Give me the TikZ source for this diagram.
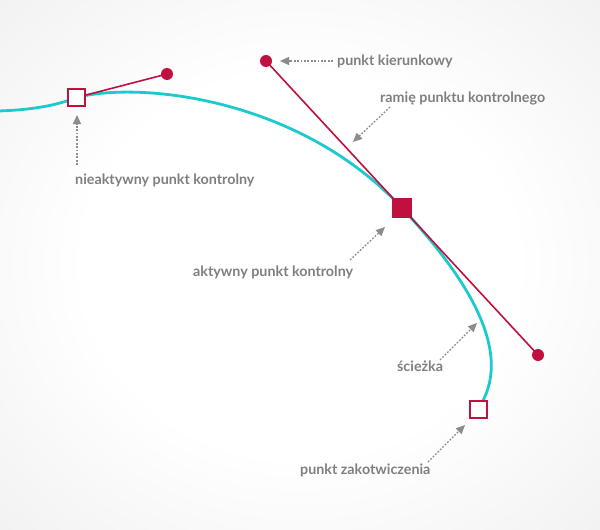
\documentclass[tikz,border=0pt]{standalone}
\usepackage{fontspec}
\setmainfont{Lato}[BoldFont={* Bold}]
\usetikzlibrary{arrows.meta}
\definecolor{crim}{HTML}{C0103F}
\definecolor{cyanp}{HTML}{1CC9CC}
\definecolor{txtg}{HTML}{7F7F7F}
\definecolor{arrg}{HTML}{8C8C8C}
\pgfdeclareradialshading{bgshade}{\pgfpoint{0bp}{0bp}}{color(0bp)=(white); color(18bp)=(white); color(72bp)=(white!84!black)}
\pgfdeclarelayer{back}
\pgfdeclarelayer{mid}
\pgfsetlayers{back,mid,main}
\tikzset{
  curvepath/.style={draw=cyanp, line width=2.8pt},
  handle/.style={draw=crim, line width=1.6pt},
  inactivebox/.style={draw=crim, fill=white, line width=2pt, minimum size=17pt, inner sep=0pt, shape=rectangle},
  activebox/.style={fill=crim, minimum size=20pt, inner sep=0pt, shape=rectangle},
  dirdot/.style={fill=crim, circle, minimum size=12pt, inner sep=0pt},
  lbl/.style={text=txtg, font=\bfseries\fontsize{14.3}{17}\selectfont, inner sep=0pt, anchor=base west},
  callout/.style={draw=arrg, line width=1.3pt, dash pattern=on 1.8pt off 1.6pt, -{Triangle[length=9pt,width=8pt]}},
}
\begin{document}
\begin{tikzpicture}[x=1pt,y=-1pt]
\useasboundingbox (0,0) rectangle (600,530);
\begin{pgfonlayer}{back}
\shade[shading=bgshade] (0,0) rectangle (600,530);
\end{pgfonlayer}
% points
\node[inactivebox] (L) at (76.5,97.5) {};
\node[activebox] (P) at (402,208) {};
\node[inactivebox] (A) at (478,409) {};
\node[dirdot] (D1) at (167,74) {};
\node[dirdot] (D2) at (266,61) {};
\node[dirdot] (D3) at (538,355) {};
\coordinate (s0) at (-2,111);
\begin{pgfonlayer}{mid}
\draw[curvepath] (s0) .. controls (30,110) and (55,106) .. (L.center)
  .. controls (140,81) and (300,98) .. (P.center)
  .. controls (470,281) and (515,355) .. (A.center);
\draw[handle] (L.center) -- (D1.center);
\draw[handle] (D2.center) -- (D3.center);
\end{pgfonlayer}
% labels
\node[lbl] (t1) at (337,65) {punkt kierunkowy};
\node[lbl] (t2) at (380,102) {ramię punktu kontrolnego};
\node[lbl] (t3) at (75,184) {nieaktywny punkt kontrolny};
\node[lbl] (t4) at (193,276) {aktywny punkt kontrolny};
\node[lbl] (t5) at (397,371) {ścieżka};
\node[lbl] (t6) at (300,474) {punkt zakotwiczenia};
% callout arrows
\coordinate (b1) at (333,61); \coordinate (e1) at (280,61);
\coordinate (b2) at (390,107); \coordinate (e2) at (353,142);
\coordinate (b3) at (77,165); \coordinate (e3) at (77,115);
\coordinate (b4) at (350,260); \coordinate (e4) at (385,227);
\coordinate (b5) at (440,360); \coordinate (e5) at (477,323);
\coordinate (b6) at (428,462); \coordinate (e6) at (465,425);
\draw[callout] (b1) -- (e1);
\draw[callout] (b2) -- (e2);
\draw[callout] (b3) -- (e3);
\draw[callout] (b4) -- (e4);
\draw[callout] (b5) -- (e5);
\draw[callout] (b6) -- (e6);
\end{tikzpicture}
\end{document}
